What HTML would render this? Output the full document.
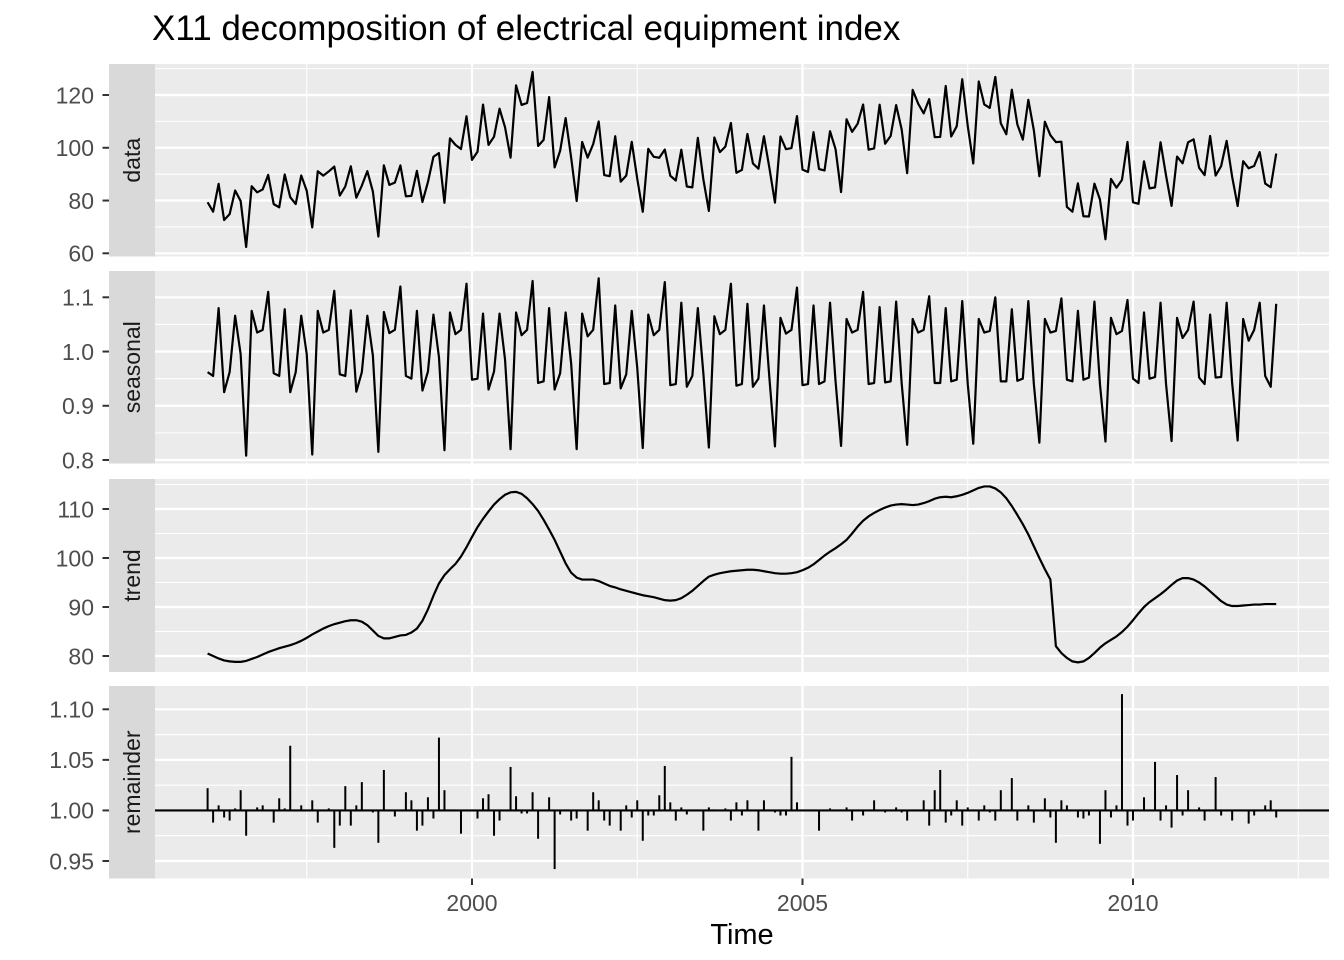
<!DOCTYPE html>
<html><head><meta charset="utf-8">
<style>
body{margin:0;background:#fff;}
svg{display:block;font-family:"Liberation Sans",Arial,sans-serif;}
</style></head>
<body>
<svg id="chart" width="1344" height="960"></svg>
<script>
const startYear = 1996;
const xTicks = [2000, 2005, 2010];
const dataVals = [
79.35,75.78,86.32,72.60,74.86,83.81,79.80,62.41,85.41,83.11,84.21,89.70,
78.64,77.42,89.86,81.27,78.68,89.51,83.67,69.80,91.09,89.43,91.04,92.87,
81.87,85.36,92.98,81.09,85.64,91.14,83.46,66.37,93.34,85.93,86.81,93.30,
81.59,81.77,91.24,79.45,86.99,96.60,97.99,79.13,103.56,101.09,99.52,111.94,
95.42,98.49,116.37,101.09,104.20,114.79,107.75,96.23,123.65,116.24,117.00,128.75,
100.69,102.99,119.21,92.56,98.86,111.26,96.25,79.81,102.18,96.28,101.38,109.97,
89.66,89.23,104.36,87.17,89.43,102.25,88.26,75.73,99.60,96.57,96.22,99.31,
89.40,87.60,99.25,85.31,84.99,103.75,88.04,76.06,103.90,98.34,100.43,109.39,
90.51,91.61,105.23,94.05,92.05,104.37,92.22,79.21,104.27,99.45,99.89,112.00,
91.73,90.83,105.91,91.95,91.40,106.28,99.47,83.21,110.80,106.04,109.04,116.40,
99.30,99.73,116.32,101.54,104.46,116.17,106.96,90.39,121.95,116.71,113.03,118.43,
104.04,104.11,123.41,104.26,108.14,125.96,108.27,94.05,125.13,116.44,115.09,126.85,
109.25,105.13,122.02,108.88,103.09,118.17,106.62,89.22,109.88,104.77,102.14,102.30,
77.56,75.76,86.50,74.04,73.95,86.40,80.38,65.32,88.17,84.86,87.84,102.21,
79.34,78.77,94.86,84.61,84.98,102.10,89.45,77.97,96.67,94.10,102.06,103.21,
92.40,89.65,104.46,89.47,93.04,102.62,88.98,77.91,94.91,92.22,93.14,98.33,
86.44,85.04,97.80];
const seasonalVals = [
.962,.955,1.080,.925,.962,1.066,.995,.808,1.075,1.035,1.040,1.110,
.960,.955,1.078,.925,.962,1.066,.995,.810,1.075,1.035,1.040,1.112,
.958,.955,1.076,.926,.962,1.066,.993,.815,1.073,1.034,1.040,1.120,
.955,.950,1.075,.928,.963,1.068,.990,.818,1.072,1.032,1.040,1.125,
.948,.950,1.070,.930,.963,1.070,.985,.820,1.072,1.030,1.040,1.130,
.942,.945,1.080,.930,.960,1.072,.978,.820,1.070,1.028,1.040,1.135,
.940,.942,1.085,.932,.958,1.075,.970,.822,1.068,1.030,1.040,1.128,
.938,.940,1.090,.935,.955,1.080,.960,.823,1.065,1.032,1.040,1.125,
.937,.940,1.088,.935,.950,1.085,.950,.825,1.062,1.033,1.040,1.118,
.938,.940,1.085,.940,.945,1.090,.945,.826,1.060,1.035,1.040,1.110,
.940,.942,1.082,.943,.945,1.092,.942,.828,1.060,1.035,1.040,1.102,
.942,.942,1.080,.945,.948,1.093,.940,.830,1.060,1.035,1.038,1.100,
.945,.945,1.078,.946,.950,1.093,.940,.832,1.060,1.035,1.038,1.098,
.948,.945,1.075,.948,.952,1.092,.940,.834,1.062,1.032,1.038,1.095,
.950,.942,1.072,.950,.953,1.090,.940,.835,1.062,1.025,1.040,1.092,
.952,.940,1.068,.952,.953,1.090,.942,.836,1.060,1.020,1.040,1.090,
.955,.935,1.088];
const trendVals = [
80.5,80.0,79.5,79.1,78.9,78.8,78.8,79.0,79.4,79.8,80.3,80.8,
81.2,81.6,81.9,82.2,82.6,83.1,83.7,84.4,85.0,85.6,86.1,86.5,
86.8,87.1,87.3,87.3,87.0,86.3,85.2,84.1,83.6,83.6,83.9,84.2,
84.3,84.8,85.6,87.2,89.5,92.3,94.8,96.5,97.7,98.8,100.3,102.2,
104.3,106.3,108.0,109.5,110.9,112.0,112.9,113.4,113.5,113.1,112.2,111.0,
109.6,107.8,105.8,103.7,101.3,98.9,97.0,96.0,95.6,95.6,95.6,95.3,
94.8,94.3,94.0,93.6,93.3,93.0,92.7,92.4,92.2,92.0,91.7,91.4,
91.3,91.4,91.8,92.5,93.3,94.3,95.3,96.2,96.6,96.9,97.1,97.3,
97.4,97.5,97.6,97.6,97.5,97.3,97.1,96.9,96.8,96.8,96.9,97.1,
97.5,98.0,98.7,99.6,100.5,101.3,102.0,102.8,103.7,105.0,106.4,107.6,
108.5,109.2,109.8,110.3,110.7,110.9,111.0,110.9,110.8,110.9,111.2,111.6,
112.1,112.4,112.5,112.4,112.6,112.9,113.3,113.8,114.3,114.6,114.6,114.2,
113.4,112.2,110.6,108.8,106.9,104.8,102.4,100.0,97.7,95.6,82.0,80.6,
79.6,78.9,78.7,78.9,79.6,80.6,81.7,82.6,83.3,84.0,84.9,86.0,
87.3,88.7,90.0,91.0,91.8,92.6,93.5,94.5,95.4,95.9,95.9,95.6,
95.0,94.2,93.2,92.2,91.2,90.5,90.2,90.2,90.3,90.4,90.5,90.5,
90.6,90.6,90.6];
const remainderVals = [
1.022,0.988,1.005,0.993,0.990,1.002,1.020,0.975,1.000,1.003,1.005,1.000,
0.988,1.012,1.002,1.064,1.000,1.005,1.000,1.010,0.988,1.000,1.002,0.963,
0.985,1.024,0.985,1.005,1.028,1.000,0.998,0.968,1.040,1.000,0.994,1.000,
1.018,1.010,0.980,0.985,1.013,0.992,1.072,1.020,1.000,1.000,0.977,1.000,
1.000,0.992,1.012,1.016,0.975,0.990,1.000,1.043,1.014,0.997,0.997,1.018,
0.972,1.000,1.013,0.942,0.996,1.001,0.990,0.992,1.000,0.980,1.018,1.010,
0.990,0.985,1.000,0.980,1.005,0.993,1.010,0.970,0.995,0.995,1.015,1.044,
1.008,0.990,1.003,0.996,1.000,1.001,0.980,1.003,1.001,1.000,1.002,0.990,
1.008,0.995,1.010,1.000,0.980,1.010,1.000,0.998,0.995,0.995,1.053,1.008,
1.000,1.000,1.000,0.980,1.000,1.002,0.999,1.001,1.003,0.990,1.000,0.995,
1.000,1.010,1.000,0.998,1.000,1.003,0.998,0.990,1.000,1.000,1.010,0.985,
1.020,1.040,0.988,0.995,1.010,0.985,1.003,1.000,0.990,1.005,0.998,0.990,
1.020,1.000,1.032,0.990,1.000,1.005,0.988,1.000,1.012,0.993,0.968,1.010,
1.005,1.000,0.993,0.992,0.995,1.000,0.967,1.020,0.993,1.005,1.115,0.985,
0.990,1.000,1.013,1.000,1.048,0.990,1.005,0.983,1.035,0.995,1.020,1.000,
1.003,0.990,1.000,1.033,0.995,1.000,0.990,1.000,1.000,0.987,0.995,1.000,
1.005,1.010,0.993];
const dataTicks = [60, 80, 100, 120];
const seasonalTicks = [0.8, 0.9, 1.0, 1.1];
const trendTicks = [80, 90, 100, 110];
const remainderTicks = [0.95, 1.00, 1.05, 1.10];

const NS = "http://www.w3.org/2000/svg";
const svg = document.getElementById('chart');
const PX0 = 155, PX1 = 1329;
function xScale(t){ return 472 + (t - 2000) * 66.1; }
function tOf(i){ return startYear + i / 12; }
function mk(tag, attrs, parent){
  const e = document.createElementNS(NS, tag);
  for (const k in attrs) e.setAttribute(k, attrs[k]);
  (parent || svg).appendChild(e);
  return e;
}
function lin(v0, y0, v1, y1){ return v => y0 + (v - v0) * (y1 - y0) / (v1 - v0); }

const panels = [
  {name:'data', top:64, bot:256.5, vals:dataVals, ticks:dataTicks, fmt:v=>String(v), y:lin(60,253.3,120,95), minor:[70,90,110,130], type:'line'},
  {name:'seasonal', top:271, bot:463.5, vals:seasonalVals, ticks:seasonalTicks, fmt:v=>v.toFixed(1), y:lin(0.8,460,1.1,297.3), minor:[0.85,0.95,1.05], type:'line'},
  {name:'trend', top:479, bot:672, vals:trendVals, ticks:trendTicks, fmt:v=>String(v), y:lin(80,656,110,509), minor:[85,95,105,115], type:'line'},
  {name:'remainder', top:686, bot:878.5, vals:remainderVals, ticks:remainderTicks, fmt:v=>v.toFixed(2), y:lin(0.95,861,1.10,709.3), minor:[0.975,1.025,1.075], type:'bar'}
];
const minorX = [1997.5, 2002.5, 2007.5, 2012.5];

const title = mk('text', {x:152, y:40, 'font-size':35, fill:'#000'});


title.textContent = 'X11 decomposition of electrical equipment index';

panels.forEach(p => {
  const g = mk('g', {});
  
  
  const bg = mk('rect', {x:PX0, y:p.top, width:PX1-PX0, height:p.bot-p.top, fill:'#ebebeb'}, g);
  
  
  p.minor.forEach(v => {
    const yy = p.y(v);
    if (yy > p.top && yy < p.bot) mk('line', {x1:PX0, x2:PX1, y1:yy, y2:yy, stroke:'#fff', 'stroke-width':1.1}, g);
  });
  minorX.forEach(t => mk('line', {x1:xScale(t), x2:xScale(t), y1:p.top, y2:p.bot, stroke:'#fff', 'stroke-width':1.1}, g));
  p.ticks.forEach(v => {
    const yy = p.y(v);
    mk('line', {x1:PX0, x2:PX1, y1:yy, y2:yy, stroke:'#fff', 'stroke-width':2.2}, g);
    mk('line', {x1:102.5, x2:109, y1:yy, y2:yy, stroke:'#333', 'stroke-width':2}, g);
    const tl = mk('text', {x:94, y:yy+8.3, 'font-size':23, fill:'#4d4d4d', 'text-anchor':'end'}, g);
    
    
    tl.textContent = p.fmt(v);
  });
  xTicks.forEach(t => mk('line', {x1:xScale(t), x2:xScale(t), y1:p.top, y2:p.bot, stroke:'#fff', 'stroke-width':2.2}, g));
  const strip = mk('rect', {x:109, y:p.top, width:46, height:p.bot-p.top, fill:'#d9d9d9'}, g);
  
  
  const cy = (p.top + p.bot) / 2;
  const st = mk('text', {x:132, y:cy, 'font-size':23, fill:'#1a1a1a', 'text-anchor':'middle', transform:`rotate(-90 132 ${cy}) translate(0 8)`}, g);
  
  
  st.textContent = p.name;
  if (p.type === 'line') {
    const d = p.vals.map((v,i) => (i ? 'L' : 'M') + xScale(tOf(i)).toFixed(2) + ',' + p.y(v).toFixed(2)).join('');
    const path = mk('path', {d:d, fill:'none', stroke:'#000', 'stroke-width':2.2, 'stroke-linejoin':'round'}, g);
    
    
  } else {
    const y1 = p.y(1);
    const base = mk('line', {x1:PX0, x2:PX1, y1:y1, y2:y1, stroke:'#000', 'stroke-width':2.2}, g);
    
    
    p.vals.forEach((v,i) => {
      const xx = xScale(tOf(i));
      const b = mk('line', {x1:xx, x2:xx, y1:y1, y2:p.y(v), stroke:'#000', 'stroke-width':2}, g);
      
      
    });
  }
});

xTicks.forEach(t => {
  const xx = xScale(t);
  mk('line', {x1:xx, x2:xx, y1:878.5, y2:885, stroke:'#333', 'stroke-width':2});
  const tl = mk('text', {x:xx, y:911, 'font-size':23, fill:'#4d4d4d', 'text-anchor':'middle'});
  
  
  tl.textContent = String(t);
});
const xt = mk('text', {x:742, y:944, 'font-size':29, fill:'#000', 'text-anchor':'middle'});


xt.textContent = 'Time';
</script>
</body></html>
